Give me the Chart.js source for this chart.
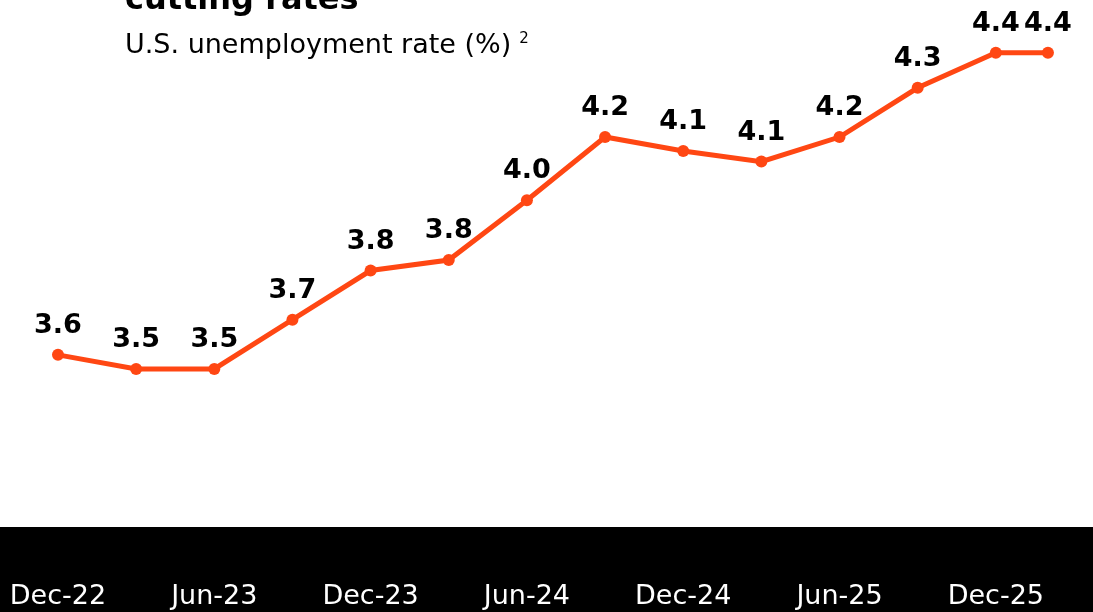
<!DOCTYPE html>
<html>
<head>
<meta charset="utf-8">
<script src="https://cdn.jsdelivr.net/npm/chart.js@4/dist/chart.umd.min.js"></script>
<style>
  html, body { margin: 0; padding: 0; background: #fff; }
  #wrap { position: relative; width: 1093px; height: 612px; overflow: hidden; }
  #title { position: absolute; left: 125px; top: -21px; font: bold 32px "DejaVu Sans", sans-serif; color: #000; white-space: nowrap; }
  #subtitle { position: absolute; left: 125px; top: 28px; font: 27px "DejaVu Sans", sans-serif; color: #000; white-space: nowrap; }
  #subtitle sup { font-size: 15px; vertical-align: 10px; margin-left: 8px; }
</style>
</head>
<body>
<div id="wrap">
  <canvas id="chart" width="1093" height="612"></canvas>
  <div id="title">cutting rates</div>
  <div id="subtitle">U.S. unemployment rate (%)<sup>2</sup></div>
</div>
<script>
// months since Dec-22 for each observation
const MONTHS = [0, 3, 6, 9, 12, 15, 18, 21, 24, 27, 30, 33, 36, 38];
// plotted values
const RATES = [3.54, 3.50, 3.50, 3.64, 3.78, 3.81, 3.98, 4.16, 4.12, 4.09, 4.16, 4.30, 4.40, 4.40];
// labels printed above the points
const RATE_LABELS = ['3.6', '3.5', '3.5', '3.7', '3.8', '3.8', '4.0', '4.2', '4.1', '4.1', '4.2', '4.3', '4.4', '4.4'];
// x-axis ticks
const TICK_MONTHS = [0, 6, 12, 18, 24, 30, 36];
const TICK_LABELS = ['Dec-22', 'Jun-23', 'Dec-23', 'Jun-24', 'Dec-24', 'Jun-25', 'Dec-25'];

const ORANGE = '#ff4713';

// black band behind the x axis
const bandPlugin = {
  id: 'band',
  beforeDraw(chart) {
    const { ctx, chartArea, width, height } = chart;
    ctx.save();
    ctx.fillStyle = '#000';
    ctx.fillRect(0, chartArea.bottom, width, height - chartArea.bottom);
    ctx.restore();
  }
};

// value labels above each point
const labelPlugin = {
  id: 'valueLabels',
  afterDatasetsDraw(chart) {
    const { ctx } = chart;
    const meta = chart.getDatasetMeta(0);
    ctx.save();
    ctx.font = 'bold 27px "DejaVu Sans", sans-serif';
    ctx.fillStyle = '#000';
    ctx.textAlign = 'center';
    ctx.textBaseline = 'alphabetic';
    meta.data.forEach((pt, i) => {
      ctx.fillText(RATE_LABELS[i], pt.x, pt.y - 22);
    });
    ctx.restore();
  }
};

new Chart(document.getElementById('chart').getContext('2d'), {
  type: 'line',
  data: {
    datasets: [{
      data: MONTHS.map((m, i) => ({ x: m, y: RATES[i] })),
      borderColor: ORANGE,
      backgroundColor: ORANGE,
      borderWidth: 5,
      pointRadius: 6,
      pointBackgroundColor: ORANGE,
      pointBorderWidth: 0,
      tension: 0,
      clip: false,
    }]
  },
  options: {
    responsive: false,
    animation: false,
    layout: { padding: 0, autoPadding: false },
    plugins: { legend: { display: false }, tooltip: { enabled: false } },
    scales: {
      x: {
        type: 'linear',
        min: -2.226,
        max: 39.73,
        afterBuildTicks: s => { s.ticks = TICK_MONTHS.map(v => ({ value: v })); },
        afterFit: s => { s.height = 85; s.paddingLeft = 0; s.paddingRight = 0; },
        grid: { display: false, drawTicks: false },
        border: { display: false },
        ticks: {
          autoSkip: false,
          maxRotation: 0,
          color: '#fff',
          padding: 54,
          font: { family: '"DejaVu Sans", sans-serif', size: 27 },
          callback: v => TICK_LABELS[TICK_MONTHS.indexOf(v)] || '',
        },
      },
      y: {
        display: false,
        min: 3.05,
        max: 4.55,
      },
    },
  },
  plugins: [bandPlugin, labelPlugin],
});
</script>
</body>
</html>
